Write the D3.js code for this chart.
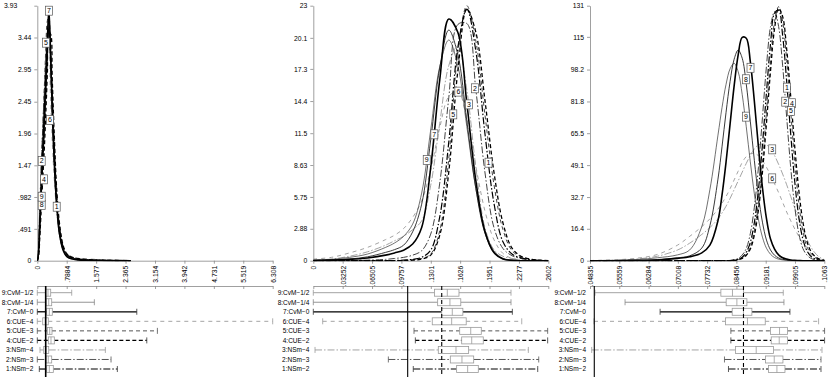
<!DOCTYPE html>
<meta charset="utf-8">
<style>body { margin: 0; }</style>
<script src="https://d3js.org/d3.v7.min.js"></script>
<svg id="chart" width="830" height="377" style="background:#fff;display:block"></svg>
<script>

// ---------- data ----------
// series order: index 0 = series 1 ... index 8 = series 9
var seriesNames = ["1:NSm\u22122", "2:NSm\u22123", "3:NSm\u22124", "4:CUE\u22122", "5:CUE\u22123",
                   "6:CUE\u22124", "7:CvM\u22120", "8:CvM\u22121/4", "9:CvM\u22121/2"];

// panel 1
var xTicks1 = [0, .7884, 1.577, 2.365, 3.154, 3.942, 4.731, 5.519, 6.308];
var xLabels1 = ["0", ".7884", "1.577", "2.365", "3.154", "3.942", "4.731", "5.519", "6.308"];
var yTicks1 = [0, .491, .982, 1.47, 1.96, 2.45, 2.95, 3.44, 3.93];
var yLabels1 = ["0", ".491", ".982", "1.47", "1.96", "2.45", "2.95", "3.44", "3.93"];
var grid1 = [0, .03, .07, .11, .15, .19, .23, .27, .31, .35, .4, .45, .52, .6, .7, .8, .95, 1.1, 1.3, 1.6, 2.0, 2.5];
var dens1 = [
  [0, .08, .5, 1.05, 1.6, 2.15, 2.7, 3.2, 3.6, 3.35, 2.6, 1.85, 1.0, .5, .2, .09, .04, .02, .01, .005, .002, 0],
  [0, .2, .9, 1.55, 2.1, 2.6, 3.1, 3.5, 3.7, 3.1, 2.2, 1.5, .8, .38, .15, .06, .03, .015, .008, .004, .001, 0],
  [0, .15, .7, 1.25, 1.8, 2.35, 2.9, 3.4, 3.65, 3.2, 2.35, 1.6, .88, .42, .17, .08, .04, .02, .01, .006, .002, 0],
  [0, .05, .4, .85, 1.3, 1.75, 2.3, 2.9, 3.5, 3.5, 2.8, 2.0, 1.1, .55, .22, .1, .05, .03, .02, .01, .004, 0],
  [0, .15, .8, 1.5, 2.1, 2.7, 3.3, 3.7, 3.75, 3.2, 2.3, 1.55, .85, .4, .16, .08, .04, .03, .02, .01, .005, .001],
  [0, .2, .85, 1.45, 2.05, 2.65, 3.2, 3.6, 3.5, 2.6, 1.85, 1.3, .75, .38, .18, .1, .06, .04, .03, .02, .01, .005],
  [0, .1, .65, 1.2, 1.75, 2.3, 2.85, 3.4, 3.87, 3.3, 2.35, 1.6, .85, .4, .15, .06, .025, .012, .006, .003, .001, 0],
  [0, .12, .6, 1.05, 1.55, 2.1, 2.65, 3.2, 3.7, 3.25, 2.4, 1.65, .9, .42, .16, .07, .03, .015, .008, .004, .001, 0],
  [0, .15, .6, 1.0, 1.5, 2.0, 2.55, 3.1, 3.6, 3.2, 2.4, 1.7, .95, .45, .18, .08, .035, .018, .009, .004, .001, 0]
];
var tags1 = [[.520, .832], [.118, 1.536], null, [.180, 1.254], [.233, 3.36],
             [.341, 2.168], [.314, 3.853], [.118, .858], [.118, .986]];
var box1 = [
  [.054, .252, .322, .429, 2.145], [0, .233, .295, .386, 1.976], [.072, .172, .233, .306, 1.824],
  [0, .295, .367, .456, 2.934], [0, .268, .333, .394, 3.218], [0, .145, .215, .295, 6.308],
  [0, .252, .322, .402, 2.666], [0, .233, .306, .386, 1.529], [0, .225, .287, .359, .922]
];
var refSolid1 = .225;

// panel 2
var xTicks2 = [0, .03252, .06505, .09757, .1301, .1626, .1951, .2277, .2602];
var xLabels2 = ["0", ".03252", ".06505", ".09757", ".1301", ".1626", ".1951", ".2277", ".2602"];
var yTicks2 = [0, 2.88, 5.75, 8.63, 11.5, 14.4, 17.3, 20.1, 23];
var yLabels2 = ["0", "2.88", "5.75", "8.63", "11.5", "14.4", "17.3", "20.1", "23"];
var grid2 = [0, .02, .04, .06, .08, .09, .1, .11, .12, .13, .14, .15, .16, .17, .18, .19, .2, .21, .22, .23, .24, .25, .26];
var dens2 = [
  [0, 0, 0, 0, 0, .02, .05, .12, .3, .95, 3.96, 10.7, 19.2, 22.7, 18.9, 11.5, 5.2, 1.7, .6, .25, .1, .03, 0],
  [0, 0, .02, .05, .12, .2, .3, .5, .9, 2.4, 7.0, 14.7, 21.3, 21.4, 15.4, 8.0, 3.0, 1.1, .45, .2, .08, .02, 0],
  [.05, .15, .4, .8, 1.4, 1.8, 2.2, 2.8, 3.6, 6.8, 12.4, 17.6, 19.4, 15.4, 8.4, 3.0, 1.0, .4, .2, .1, .03, 0, 0],
  [0, 0, 0, 0, 0, 0, .02, .05, .15, .5, 2.3, 8.0, 17.1, 22.7, 20.6, 14.5, 8.0, 3.4, 1.14, .4, .15, .05, 0],
  [0, 0, 0, 0, 0, 0, .02, .08, .2, .6, 2.7, 9.2, 18.7, 23.0, 19.8, 13.2, 6.9, 2.8, .9, .35, .15, .05, 0],
  [.15, .3, .7, 1.2, 1.9, 2.3, 2.9, 3.9, 5.4, 8.2, 12.0, 14.8, 15.3, 12.8, 8.5, 4.5, 1.9, .65, .2, .06, .01, 0, 0],
  [.02, .05, .12, .25, .5, .7, .95, 1.5, 3.0, 8.4, 16.3, 21.8, 20.6, 14.2, 7.2, 2.66, .73, .15, .03, 0, 0, 0, 0],
  [.03, .07, .15, .35, .75, 1.0, 1.4, 2.6, 5.1, 10.9, 17.4, 20.8, 18.6, 12.6, 6.5, 2.5, .75, .17, .05, .01, 0, 0, 0],
  [.05, .12, .3, .6, 1.2, 1.6, 2.2, 3.3, 6.1, 11.8, 17.5, 19.9, 17.6, 12.1, 6.5, 2.7, .88, .22, .05, .01, 0, 0, 0]
];
var tags2 = [[.194, 8.84], [.179, 15.55], [.1724, 14.1], null, [.155, 13.2],
             [.1606, 15.25], [.134, 11.4], null, [.1256, 9.08]];
var box2 = [
  [.1107, .1587, .1709, .1827, .2485], [.0831, .1517, .1646, .1776, .2496], [.0019, .1384, .1580, .1720, .2381],
  [.1130, .1643, .1754, .1882, .2595], [.1115, .1621, .1743, .1860, .2595], [.0104, .1317, .1532, .1693, .2308],
  [0, .1422, .1539, .1656, .2204], [0, .1377, .1513, .1633, .2189], [0, .1343, .1484, .1613, .2189]
];
var refSolid2 = .1045, refDashed2 = .1422;

// panel 3
var xTicks3 = [.04835, .05559, .06284, .07008, .07732, .08456, .09181, .09905, .1063];
var xLabels3 = [".04835", ".05559", ".06284", ".07008", ".07732", ".08456", ".09181", ".09905", ".1063"];
var yTicks3 = [0, 16.4, 32.7, 49.1, 65.5, 81.8, 98.2, 115, 131];
var yLabels3 = ["0", "16.4", "32.7", "49.1", "65.5", "81.8", "98.2", "115", "131"];
var grid3 = [.04835, .055, .06, .065, .07, .073, .076, .078, .08, .081, .082, .083, .084, .085, .086, .087, .088,
             .089, .09, .091, .092, .093, .094, .095, .096, .097, .098, .099, .1, .101, .102, .103, .104, .105, .1063];
var dens3 = [
  [0, 0, 0, 0, 0, 0, 0, 0, 0, 0, 0, .05, .25, .7, 1.8, 4.4, 9.4, 19.6, 36.3, 59.5, 86.5, 111.4, 127.2, 128.7,
   115.6, 91.9, 64.8, 40.4, 22.4, 11.1, 5.2, 2.2, .9, .35, .05],
  [0, 0, 0, 0, 0, 0, 0, 0, 0, 0, .05, .15, .45, 1.2, 2.9, 6.3, 13.9, 27.5, 47.7, 73.5, 100.1, 120.3, 128,
   120.3, 100.1, 73.5, 47.7, 27.5, 13.9, 6.3, 2.9, 1.2, .45, .15, .05],
  [.05, .3, .9, 2.3, 5.5, 9, 13.5, 17, 21.5, 24.5, 28, 32, 36.5, 41, 45.5, 50, 54, 57.5, 59.5, 60, 59.5, 57.5,
   54, 49.5, 44.5, 39, 33, 27, 21.5, 16, 11, 7, 4, 2, .5],
  [0, 0, 0, 0, 0, 0, 0, 0, 0, 0, 0, .03, .15, .5, 1.2, 2.8, 6.0, 13.2, 26.0, 45.5, 70.8, 97.5, 119.3, 129.7,
   125.4, 108.6, 84.1, 58.3, 36.1, 20.0, 10.0, 4.8, 2.2, .9, .2],
  [0, 0, 0, 0, 0, 0, 0, 0, 0, 0, 0, .05, .2, .6, 1.5, 3.3, 7.1, 15.4, 29.5, 50.4, 76.5, 102.8, 122.9, 130.5,
   122.9, 102.8, 76.5, 50.4, 29.5, 15.4, 7.1, 3.8, 1.8, .8, .2],
  [.1, .5, 1.3, 3.2, 8.0, 12.5, 17.5, 21.5, 26.5, 29.5, 33, 37, 41.5, 46, 50.5, 53.5, 55, 55, 54, 51.5, 48, 44,
   39.5, 35, 30, 25, 20.5, 16.3, 12.5, 8.8, 5.3, 2.8, 1.3, .5, .1],
  [0, 0, .1, .3, 1.2, 2, 4, 8, 20.6, 33.7, 50.7, 70.3, 89.8, 105.7, 114.7, 114.3, 102.3, 81.9, 58.7, 37.6, 21.6,
   11.1, 6, 3, 1.5, .8, .4, .2, .1, 0, 0, 0, 0, 0, 0],
  [0, .05, .2, .6, 1.5, 2.5, 6.5, 18, 41.9, 58.5, 76.2, 92.1, 103.5, 108.2, 104.0, 90.7, 71.7, 51.5, 33.5, 19.8,
   10.6, 5.5, 2.8, 1.4, .7, .35, .15, .05, 0, 0, 0, 0, 0, 0, 0],
  [.05, .25, .6, 1.5, 3, 5.5, 17.5, 36.5, 64.5, 78.6, 90.6, 98.6, 101.4, 97.1, 85.3, 68.8, 50.8, 34.4, 21.4, 12.1,
   6.4, 3.3, 1.6, .8, .4, .2, .08, 0, 0, 0, 0, 0, 0, 0, 0]
];
var tags3 = [[.09706, 88.9], [.09664, 81.7], [.09342, 57.2], [.09830, 80.9], [.09805, 76.9],
             [.09342, 42.3], [.08805, 99.1], [.08691, 93.2], [.08691, 74.0]];
var box3 = [
  [.08260, .09250, .09458, .09657, .10548], [.08161, .09176, .09392, .09607, .10548], [.04877, .08433, .08946, .09374, .10573],
  [.08319, .09317, .09515, .09721, .10637], [.08319, .09300, .09523, .09721, .10637], [.04934, .08186, .08730, .09169, .10489],
  [.06569, .08352, .08631, .08839, .09780], [.05702, .08203, .08468, .08716, .09632], [.04959, .08072, .08359, .08631, .09615]
];
var refSolid3 = .04941, refDashed3 = .08631;

// ---------- styles ----------
var curveColor = ["#000", "#444", "#9a9a9a", "#000", "#444", "#9a9a9a", "#000", "#222", "#333"];
var whiskColor = ["#000", "#555", "#9a9a9a", "#000", "#555", "#9a9a9a", "#000", "#888", "#999"];
var lineWidth = [1.2, 1, .9, 1.3, 1, .9, 1.6, .9, .7];
var lineDash = ["7,2,1.5,2", "7,2,1.5,2", "7,2,1.5,2", "4,2.5", "4,3", "4,4", null, null, null];
var drawOrder = [2, 5, 8, 7, 1, 4, 0, 3, 6];
var font = "'Liberation Sans', Arial, sans-serif";

var plotTop = 5.7, plotBottom = 260.7, boxTop = 286, row9Y = 292.7, rowStep = 9.54;

var panels = [
  {x0: 37.3, x1: 272.7, xt: xTicks1, xl: xLabels1, yt: yTicks1, yl: yLabels1, grid: grid1, dens: dens1,
   tags: tags1, box: box1, refS: refSolid1, refD: null, topShift: -14},
  {x0: 313.3, x1: 548.3, xt: xTicks2, xl: xLabels2, yt: yTicks2, yl: yLabels2, grid: grid2, dens: dens2,
   tags: tags2, box: box2, refS: refSolid2, refD: refDashed2, topShift: 0},
  {x0: 590, x1: 824.3, xt: xTicks3, xl: xLabels3, yt: yTicks3, yl: yLabels3, grid: grid3, dens: dens3,
   tags: tags3, box: box3, refS: refSolid3, refD: refDashed3, topShift: 0}
];

var svg = d3.select("#chart");

panels.forEach(function(p, pi) {
  var x = d3.scaleLinear().domain([p.xt[0], p.xt[p.xt.length - 1]]).range([p.x0, p.x1]);
  var y = d3.scaleLinear().domain([0, p.yt[p.yt.length - 1]]).range([plotBottom, plotTop]);
  var g = svg.append("g");

  // axes
  var ya = g.append("g").attr("transform", "translate(" + p.x0 + ",0)")
    .call(d3.axisLeft(y).tickValues(p.yt).tickFormat(function(d, i) { return p.yl[i]; })
      .tickSize(3).tickSizeOuter(0));
  ya.selectAll("text").filter(function(d, i) { return i === p.yt.length - 1; })
    .attr("dx", p.topShift);
  var xa = g.append("g").attr("transform", "translate(0," + plotBottom + ")")
    .call(d3.axisBottom(x).tickValues(p.xt).tickFormat(function(d, i) { return p.xl[i]; })
      .tickSize(3).tickSizeOuter(0));
  xa.selectAll("text").attr("transform", "rotate(-90)").attr("x", -5).attr("y", 0)
    .attr("dy", "0.35em").style("text-anchor", "end");
  [ya, xa].forEach(function(a) {
    a.selectAll("path,line").attr("stroke", "#888").attr("stroke-width", 0.8);
    a.selectAll("text").attr("fill", "#000").style("font-family", font).style("font-size", "6.8px");
  });

  // density curves
  g.append("clipPath").attr("id", "clip" + pi).append("rect")
    .attr("x", p.x0).attr("y", 0).attr("width", p.x1 - p.x0 + 2).attr("height", plotBottom + 0.5);
  var line = d3.line()
    .x(function(d) { return x(d[0]); })
    .y(function(d) { return y(Math.max(0, d[1])); })
    .curve(d3.curveCatmullRom.alpha(0.5));
  var cg = g.append("g").attr("clip-path", "url(#clip" + pi + ")");
  drawOrder.forEach(function(k) {
    var pts = p.grid.map(function(gx, i) { return [gx, p.dens[k][i]]; });
    cg.append("path").datum(pts)
      .attr("d", line)
      .attr("fill", "none")
      .attr("stroke", curveColor[k])
      .attr("stroke-width", lineWidth[k])
      .attr("stroke-dasharray", lineDash[k]);
  });

  // curve tags
  p.tags.forEach(function(t, k) {
    if (!t) return;
    var tg = g.append("g").attr("transform", "translate(" + x(t[0]) + "," + y(t[1]) + ")");
    tg.append("rect").attr("x", -3.5).attr("y", -4.5).attr("width", 7).attr("height", 9)
      .attr("fill", "#fff").attr("stroke", "#555").attr("stroke-width", 0.7);
    tg.append("text").attr("text-anchor", "middle").attr("dy", "0.35em")
      .style("font-family", font).style("font-size", "7px").text(k + 1);
  });

  // boxplot frame
  var ba = g.append("g").attr("transform", "translate(0," + boxTop + ")")
    .call(d3.axisBottom(x).tickValues(p.xt).tickFormat("").tickSize(3).tickSizeOuter(0));
  ba.selectAll("path,line").attr("stroke", "#888").attr("stroke-width", 0.8);

  // boxplots, row 9 on top
  p.box.forEach(function(b, k) {
    var ry = row9Y + (8 - k) * rowStep;
    g.append("text").attr("x", p.x0 - 4).attr("y", ry).attr("dy", "0.35em")
      .attr("text-anchor", "end").style("font-family", font).style("font-size", "6.5px")
      .text(seriesNames[k]);
    [[b[0], b[1]], [b[3], b[4]]].forEach(function(seg) {
      g.append("line").attr("x1", x(seg[0])).attr("x2", x(seg[1])).attr("y1", ry).attr("y2", ry)
        .attr("stroke", whiskColor[k]).attr("stroke-width", Math.max(0.9, Math.min(lineWidth[k], 1.3)))
        .attr("stroke-dasharray", lineDash[k]);
    });
    [b[0], b[4]].forEach(function(v) {
      g.append("line").attr("x1", x(v)).attr("x2", x(v)).attr("y1", ry - 3).attr("y2", ry + 3)
        .attr("stroke", whiskColor[k] === "#000" ? "#333" : whiskColor[k]).attr("stroke-width", 0.8);
    });
    g.append("rect").attr("x", x(b[1])).attr("y", ry - 3.5)
      .attr("width", x(b[3]) - x(b[1])).attr("height", 7)
      .attr("fill", "#fff").attr("stroke", "#999").attr("stroke-width", 0.8);
    g.append("line").attr("x1", x(b[2])).attr("x2", x(b[2])).attr("y1", ry - 3.5).attr("y2", ry + 3.5)
      .attr("stroke", "#999").attr("stroke-width", 0.8);
  });

  // reference lines
  g.append("line").attr("x1", x(p.refS)).attr("x2", x(p.refS)).attr("y1", boxTop).attr("y2", 377)
    .attr("stroke", "#000").attr("stroke-width", pi === 0 ? 1.6 : 1.1);
  if (p.refD !== null) {
    g.append("line").attr("x1", x(p.refD)).attr("x2", x(p.refD)).attr("y1", boxTop).attr("y2", 377)
      .attr("stroke", "#000").attr("stroke-width", 1.1).attr("stroke-dasharray", "4,3");
  }
});

</script>
